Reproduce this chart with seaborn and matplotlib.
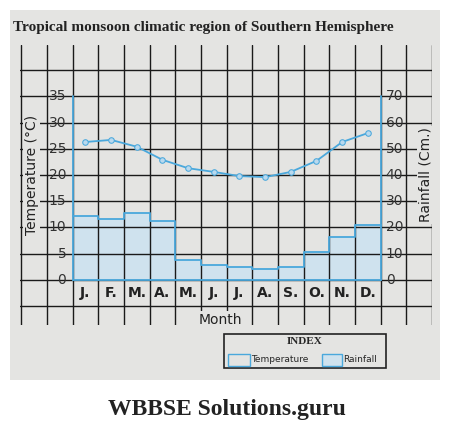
import matplotlib
matplotlib.use("Agg")
import matplotlib.pyplot as plt
import matplotlib.patches as mpatches
import seaborn as sns
import numpy as np
import pandas as pd

months = ["J.", "F.", "M.", "A.", "M.", "J.", "J.", "A.", "S.", "O.", "N.", "D."]
temperature = [26.3, 26.7, 25.4, 22.9, 21.3, 20.6, 19.8, 19.6, 20.6, 22.7, 26.3, 28.0]
rainfall = [24.4, 23.4, 25.4, 22.4, 7.5, 5.6, 5.0, 4.2, 4.8, 10.6, 16.4, 21.0]
temp_ticks = [0, 5, 10, 15, 20, 25, 30, 35]
rain_ticks = [0, 10, 20, 30, 40, 50, 60, 70]

sns.set_style("white")
W, H = 455, 445
fig = plt.figure(figsize=(W/100, H/100), dpi=100)
fig.patch.set_facecolor("white")
fig.patches.append(mpatches.Rectangle((10/W, 1-380/H), 430/W, 370/H, transform=fig.transFigure,
                                      facecolor="#e4e4e2", edgecolor="none", zorder=-10))
ax = fig.add_axes([20/W, 1-325/H, 412/W, 280/H])
ax.set_facecolor("#e4e4e2")
blue = "#4aa8dc"
x = np.arange(12)
df = pd.DataFrame({"m": x, "t": temperature, "r": [v/2 for v in rainfall]})
ax.bar(df["m"], df["r"], width=1.0, color="#cfe2ee", edgecolor="none", zorder=1)
ax.step(np.r_[x-0.5, 11.5], np.r_[df["r"], df["r"].iloc[-1]], where="post", color=blue, lw=1.3, zorder=4)
sns.lineplot(data=df, x="m", y="t", ax=ax, color=blue, lw=1.3, marker="o", markersize=4,
             markerfacecolor="#b9d9ee", markeredgecolor=blue, zorder=5)
ax.plot([-0.5, -0.5], [0, 35], color=blue, lw=1.3, zorder=4)
ax.plot([11.5, 11.5], [0, 35], color=blue, lw=1.3, zorder=4)
ax.plot([-0.5, 11.5], [0, 0], color=blue, lw=1.3, zorder=4)
ax.set_xlim(-2.55, 13.5)
ax.set_ylim(-8.6, 44.8)
ax.set_xticks(np.arange(-2.5, 14, 1))
ax.set_yticks(np.arange(-5, 45, 5))
ax.set_axisbelow(False)
ax.grid(True, color="#1a1a1a", lw=1.0, zorder=2)
ax.tick_params(length=0, labelbottom=False, labelleft=False)
ax.set_xlabel(""); ax.set_ylabel("")
for s in ax.spines.values():
    s.set_visible(False)
for v in temp_ticks:
    ax.text(-0.75, v, str(v), ha="right", va="center", fontsize=10, color="#333333", zorder=6)
for v in rain_ticks:
    ax.text(11.7, v/2, str(v), ha="left", va="center", fontsize=10, color="#333333", zorder=6)
for i, m in enumerate(months):
    ax.text(i, -2.5, m, ha="center", va="center", fontsize=10, fontweight="bold", color="#222222", zorder=6)
ax.text(-2.1, 20, "Temperature (°C)", rotation=90, ha="center", va="center", fontsize=10, color="#222222",
        zorder=6, bbox=dict(facecolor="#e4e4e2", edgecolor="none", pad=1))
ax.text(13.25, 20, "Rainfall (Cm.)", rotation=90, ha="center", va="center", fontsize=10, color="#222222",
        zorder=6, bbox=dict(facecolor="#e4e4e2", edgecolor="none", pad=1))
ax.text(6.1, -7.6, "Month", ha="right", va="center", fontsize=10, color="#222222", zorder=6,
        bbox=dict(facecolor="#e4e4e2", edgecolor="none", pad=1))
fig.text(13/W, 1-27/H, "Tropical monsoon climatic region of Southern Hemisphere", fontsize=11,
         fontweight="bold", family="Liberation Serif", color="#222222", va="center")
fig.patches.append(mpatches.Rectangle((224/W, 1-368/H), 162/W, 34/H, transform=fig.transFigure,
                                      facecolor="#e4e4e2", edgecolor="#222222", lw=1.2))
fig.text(305/W, 1-342/H, "INDEX", fontsize=8, fontweight="bold", family="Liberation Serif", ha="center", va="center")
fig.patches.append(mpatches.Rectangle((228/W, 1-366/H), 22/W, 12/H, transform=fig.transFigure,
                                      facecolor="#e4e4e2", edgecolor=blue, lw=1))
fig.text(251/W, 1-360/H, "Temperature", fontsize=6.5, va="center")
fig.patches.append(mpatches.Rectangle((322/W, 1-366/H), 20/W, 12/H, transform=fig.transFigure,
                                      facecolor="#cfe2ee", edgecolor=blue, lw=1))
fig.text(343/W, 1-360/H, "Rainfall", fontsize=6.5, va="center")
fig.text(227/W, 1-410/H, "WBBSE Solutions.guru", fontsize=17, fontweight="bold", family="Liberation Serif",
         ha="center", va="center", color="#222222")
fig.savefig("out.png", dpi=100)
